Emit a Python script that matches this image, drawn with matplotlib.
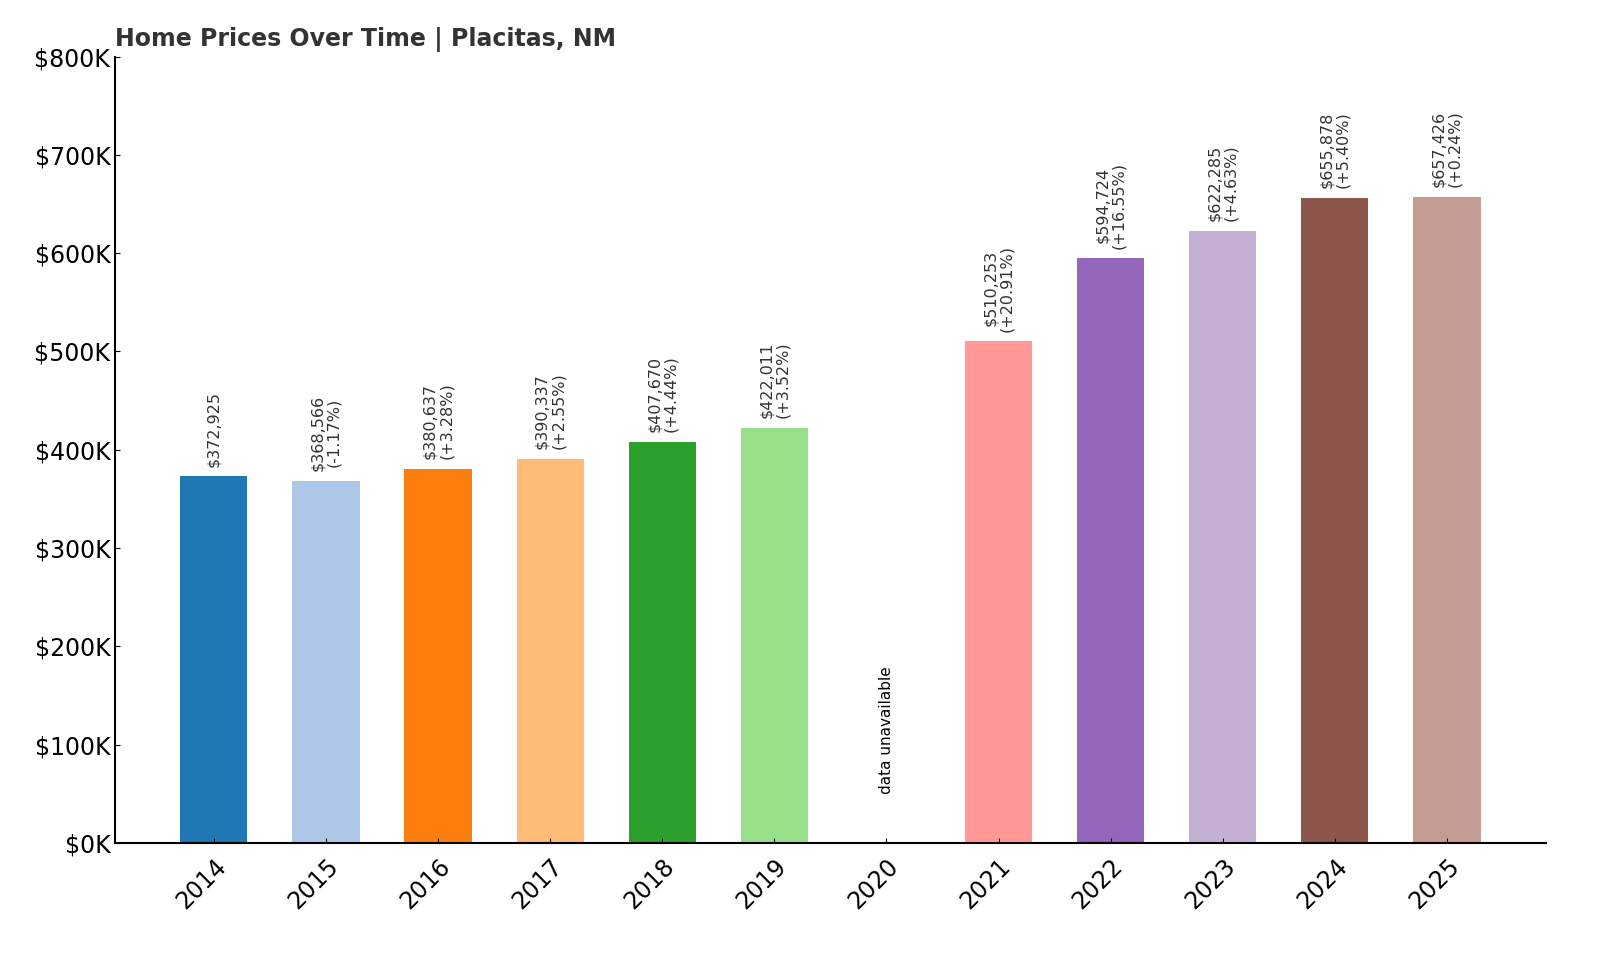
import matplotlib.pyplot as plt
import numpy as np

years = ['2014', '2015', '2016', '2017', '2018', '2019', '2020',
         '2021', '2022', '2023', '2024', '2025']
prices = [372925, 368566, 380637, 390337, 407670, 422011, None,
          510253, 594724, 622285, 655878, 657426]
changes = [None, '-1.17%', '+3.28%', '+2.55%', '+4.44%', '+3.52%', None,
           '+20.91%', '+16.55%', '+4.63%', '+5.40%', '+0.24%']

colors = plt.get_cmap('tab20').colors

fig = plt.figure(figsize=(16, 9.6), dpi=100)
ax = fig.add_axes([0.072, 0.122, 0.894, 0.819])

x = np.arange(len(years))
for i, (p, c) in enumerate(zip(prices, changes)):
    if p is None:
        ax.text(i, 50000, 'data unavailable', rotation=90, ha='center',
                va='bottom', fontsize=11, color='black')
        continue
    ax.bar(i, p, width=0.6, color=colors[i % 20])
    label = f'${p:,}' if c is None else f'${p:,}\n({c})'
    ax.text(i, p + 10000, label, rotation=90, ha='center', va='bottom',
            fontsize=11.5, color='#333333', linespacing=1.1)

ax.set_xticks(x)
ax.set_xticklabels(years, rotation=45, ha='right', fontsize=17,
                   rotation_mode='anchor')
ax.set_ylim(0, 800000)
ax.set_xlim(-0.88, 11.88)
ax.set_yticks(np.arange(0, 800001, 100000))
ax.yaxis.set_major_formatter(plt.FuncFormatter(lambda v, _: f'${int(v/1000)}K'))
ax.tick_params(axis='y', labelsize=17, direction='in')
ax.tick_params(axis='x', direction='in', pad=8)
for s in ['top', 'right']:
    ax.spines[s].set_visible(False)
ax.spines['left'].set_linewidth(1.5)
ax.spines['bottom'].set_linewidth(1.5)

ax.set_title('Home Prices Over Time | Placitas, NM', loc='left',
             fontsize=17, fontweight='bold', color='#333333', pad=8)

fig.savefig('out.png')
